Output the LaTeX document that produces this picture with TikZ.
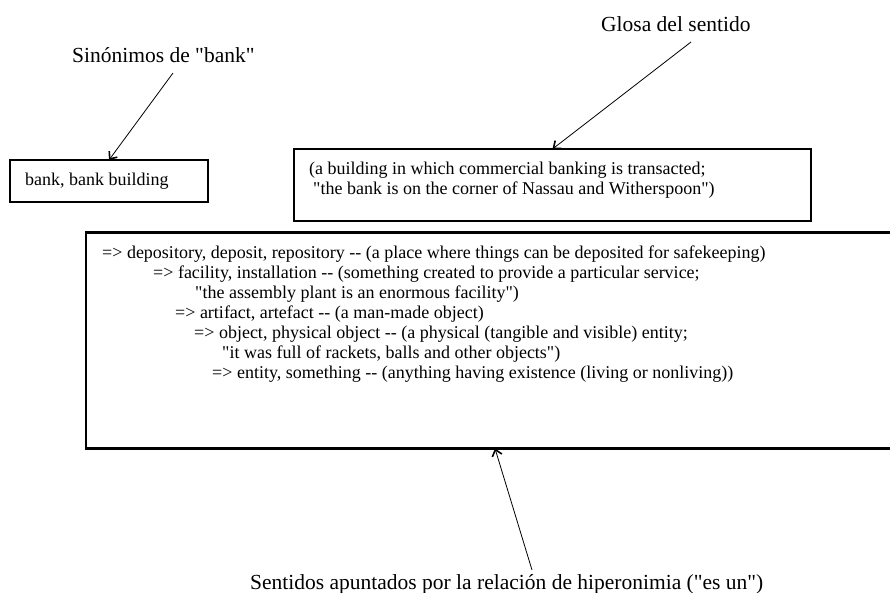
\documentclass[tikz,border=0pt]{standalone}
\usepackage{fontspec}
\setmainfont{Liberation Serif}[Ligatures=TeXOff]
\usetikzlibrary{arrows.meta}
\begin{document}
\begin{tikzpicture}[x=1pt,y=-1pt,
  frame/.style={draw=black, line width=2.5pt, inner sep=0pt, outer sep=0pt},
  txt/.style={anchor=base west, inner sep=0pt, font=\fontsize{18}{20}\selectfont},
  caption/.style={anchor=base west, inner sep=0pt, font=\fontsize{21.5}{24}\selectfont},
  pointer/.style={draw=black, line width=0.8pt,
    -{Straight Barb[length=6pt,width=10pt,line width=1.6pt]}}]
\useasboundingbox (0,0) rectangle (890,592);

% boxes
\node[frame, minimum width=198pt, minimum height=42pt] (synset) at (109,181) {};
\node[frame, minimum width=517pt, minimum height=72pt] (gloss) at (552.5,185) {};
\node[frame, minimum width=818pt, minimum height=216pt] (hyper) at (495,340.5) {};

% synonyms
\node[txt] (syntext) at (25,185) {bank, bank building};

% gloss
\node[txt] (gl1) at (309,174) {(a building in which commercial banking is transacted;};
\node[txt] (gl2) at (313,194) {"the bank is on the corner of Nassau and Witherspoon")};

% hypernym chain
\node[txt] (h1) at (102,258) {=> depository, deposit, repository -- (a place where things can be deposited for safekeeping)};
\node[txt] (h2) at (153,278) {=> facility, installation -- (something created to provide a particular service;};
\node[txt] (h3) at (195,298) {"the assembly plant is an enormous facility")};
\node[txt] (h4) at (175,318) {=> artifact, artefact -- (a man-made object)};
\node[txt] (h5) at (194,338) {=> object, physical object -- (a physical (tangible and visible) entity;};
\node[txt] (h6) at (222,358) {"it was full of rackets, balls and other objects")};
\node[txt] (h7) at (212,378) {=> entity, something -- (anything having existence (living or nonliving))};

% captions
\node[caption] (synlabel) at (72,62) {Sinónimos de "bank"};
\node[caption] (glosslabel) at (601,31) {Glosa del sentido};
\node[caption] (hyperlabel) at (250,589) {Sentidos apuntados por la relación de hiperonimia ("es un")};

% pointers
\coordinate (p1) at (173,73);
\coordinate (p2) at (691,42);
\coordinate (p3) at (532,570);
\draw[pointer] (p1) -- (synset.north);
\draw[pointer] (p2) -- (gloss.north);
\draw[pointer] (p3) -- (hyper.south);
\end{tikzpicture}
\end{document}
